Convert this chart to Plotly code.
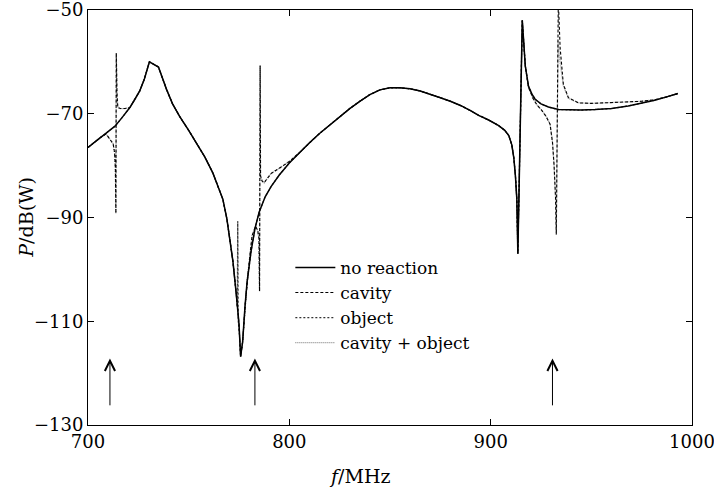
import plotly.graph_objects as go

# ---------------- data ----------------
# "no reaction" curve
base_f = [700, 703, 706, 710, 713.4, 717, 720.8, 723, 725.7, 728, 730.5, 735, 737, 739,
          742, 745.5, 750, 753.8, 758, 762, 764.5, 767, 769, 770.3, 772, 773.6, 775, 775.8,
          776.8, 778, 779, 781, 783, 785, 788, 791, 795, 800, 805, 810, 815, 820, 825,
          830, 835, 840, 845, 850, 855, 860, 865, 870, 875, 880, 885, 890, 894, 899,
          904, 907, 909, 910.5, 911.5, 912.3, 913.0, 913.5, 915.7, 917.2, 918.8, 920.5,
          922.1, 925, 928.7, 933.7, 940, 945, 951.8, 960, 968.3, 975, 981.5, 987, 993]
base_p = [-76.5, -75.6, -74.6, -73.4, -72.4, -70.7, -68.8, -67.4, -65.6, -63.3, -60.0,
          -61.0, -63.2, -65.3, -68.1, -70.5, -73.2, -75.6, -78.3, -81.4, -83.8, -86.5,
          -90.3, -93.6, -98.5, -104.6, -110.5, -116.8, -114.0, -107.0, -102.5, -96.5, -92.0,
          -89.0, -86.0, -84.0, -81.8, -79.5, -77.5, -75.6, -73.8, -72.2, -70.6, -69.0,
          -67.6, -66.3, -65.4, -65.0, -65.0, -65.2, -65.6, -66.2, -66.9, -67.6, -68.4,
          -69.4, -70.3, -71.2, -72.3, -73.2, -74.2, -76.0, -78.5, -82.0, -86.5, -97.0,
          -52.0, -60.8, -64.7, -66.2, -67.2, -68.1, -68.7, -69.2, -69.3, -69.3, -69.2,
          -69.0, -68.5, -68.0, -67.4, -66.8, -66.1]

# "cavity" resonances (replace the base curve inside each window)
cav1_f = [709, 711, 712.5, 713.2, 713.6, 713.85, 714.05, 714.4, 714.8, 716, 718.3, 720.8]
cav1_p = [-73.9, -74.9, -75.8, -77.5, -80.5, -89.2, -58.3, -66.0, -68.8, -69.0, -69.0, -68.8]
cav2_f = [779.5, 780.5, 781.5, 783.2, 784.3, 784.9, 785.2, 785.5, 785.7, 786.5, 787.5,
          789, 791, 795, 800]
cav2_p = [-100.5, -97.0, -93.5, -91.7, -92.5, -94.0, -104.2, -60.7, -82.0, -83.0, -83.3,
          -82.5, -81.5, -80.5, -79.2]
cav3_f = [918.8, 921, 923, 925.3, 927.5, 929.5, 930.7, 931.5, 932.2, 932.6, 933.6, 934.5,
          936.1, 938.6, 943.6, 950, 958, 968, 975, 981.5]
cav3_p = [-64.9, -67.0, -68.3, -69.3, -70.5, -72.0, -75.5, -80.0, -86.0, -93.3, -48.0,
          -57.3, -64.3, -66.9, -67.9, -68.0, -67.9, -67.8, -67.6, -67.3]
# second (cavity + object) version of the 935 MHz resonance
co3_f = [918.8, 921, 923, 925.3, 927.5, 929.5, 930.7, 931.5, 932.2, 932.6, 933.5, 934.3,
         936.1, 938.6, 943.6, 950, 958, 968, 975, 981.5]
co3_p = [-64.9, -67.0, -68.3, -69.3, -70.5, -72.0, -75.5, -80.0, -86.0, -93.0, -56.0,
         -59.5, -64.6, -67.0, -67.9, -68.0, -67.9, -67.8, -67.6, -67.3]

# "object" resonance near 775 MHz
obj_f = [773.6, 774.2, 774.35, 774.6, 775.2]
obj_p = [-104.6, -107.2, -90.7, -109.7, -112.5]

# arrows marking frequencies
arrow_f = [710.9, 782.9, 930.7]
arrow_tip, arrow_tail = -117.2, -126.5

series_names = ["no reaction", "cavity", "object", "cavity + object"]


def merge(f, p, segs):
    """Replace base points inside each segment window by the segment's points."""
    out = []
    for bf, bp in zip(f, p):
        if not any(sf[0] <= bf <= sf[-1] for sf, sp in segs):
            out.append((bf, bp))
    for sf, sp in segs:
        out.extend(zip(sf, sp))
    out.sort()
    return [a for a, b in out], [b for a, b in out]


cav_f, cav_p = merge(base_f, base_p, [(cav1_f, cav1_p), (cav2_f, cav2_p), (cav3_f, cav3_p)])
ob_f, ob_p = merge(base_f, base_p, [(obj_f, obj_p)])
co_f, co_p = merge(base_f, base_p, [(cav1_f, cav1_p), (cav2_f, cav2_p), (co3_f, co3_p),
                                     (obj_f, obj_p)])

FONT = "DejaVu Serif"

fig = go.Figure()
fig.add_trace(go.Scatter(x=co_f, y=co_p, mode="lines", name=series_names[3], legendrank=4,
                         line=dict(color="#8a8a8a", width=1.3, dash="1px,1px")))
fig.add_trace(go.Scatter(x=ob_f, y=ob_p, mode="lines", name=series_names[2], legendrank=3,
                         line=dict(color="#333333", width=1.2, dash="2px,2px")))
fig.add_trace(go.Scatter(x=cav_f, y=cav_p, mode="lines", name=series_names[1], legendrank=2,
                         line=dict(color="black", width=1.1, dash="3px,2px")))
fig.add_trace(go.Scatter(x=base_f, y=base_p, mode="lines", name=series_names[0], legendrank=1,
                         line=dict(color="black", width=1.5)))

for af in arrow_f:
    fig.add_annotation(x=af, y=arrow_tip, ax=af, ay=arrow_tail, axref="x", ayref="y",
                       xref="x", yref="y", showarrow=True, arrowhead=5, arrowsize=2,
                       arrowwidth=1, arrowcolor="black", text="")

axis_common = dict(showline=True, linecolor="black", linewidth=1, mirror="ticks",
                   ticks="inside", ticklen=6, tickcolor="black", showgrid=False,
                   zeroline=False, automargin=False, ticklabeloverflow="allow",
                   tickfont=dict(family=FONT, size=18, color="black"))

fig.update_xaxes(range=[700, 1000], tickvals=[700, 800, 900, 1000], **axis_common)
fig.update_yaxes(range=[-130, -50], tickvals=[-130, -110, -90, -70, -50], **axis_common)

fig.add_annotation(text="<i>f</i>/MHz", xref="paper", yref="paper", x=0.45, y=-0.123,
                   showarrow=False, font=dict(family=FONT, size=19, color="black"),
                   xanchor="center", yanchor="middle")
fig.add_annotation(text="<i>P</i>/dB(W)", xref="paper", yref="paper", x=-0.104, y=0.5,
                   showarrow=False, textangle=-90,
                   font=dict(family=FONT, size=19, color="black"),
                   xanchor="center", yanchor="middle")

fig.update_layout(
    width=714, height=492,
    margin=dict(l=88, r=22, t=10, b=67, autoexpand=False),
    plot_bgcolor="white", paper_bgcolor="white",
    legend=dict(x=0.335, y=0.422, xanchor="left", yanchor="top", bgcolor="rgba(0,0,0,0)",
                font=dict(family=FONT, size=17, color="black"), itemwidth=40,
                traceorder="normal"),
    showlegend=True,
)

fig.write_html("out.html")
